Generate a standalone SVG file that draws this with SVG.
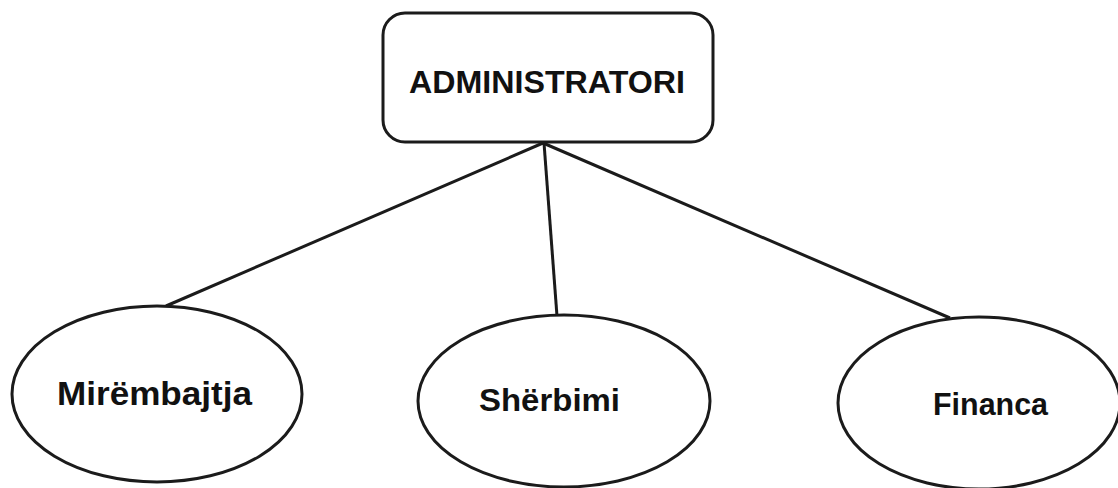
<svg xmlns="http://www.w3.org/2000/svg" width="1118" height="488" viewBox="0 0 1118 488">
<style>
.shape{fill:#fff;stroke:#1b1b1b;stroke-width:3}
.edge{stroke:#1b1b1b;stroke-width:3;fill:none}
.lbl{font-family:"Liberation Sans",Arial,sans-serif;font-weight:bold;fill:#111;text-anchor:start}
</style>
<rect width="1118" height="488" fill="#fff"/>
<g id="connectors">
<line class="edge" x1="543" y1="143" x2="166" y2="306"/>
<line class="edge" x1="544" y1="143" x2="557" y2="316"/>
<line class="edge" x1="543" y1="143" x2="950" y2="318"/>
</g>
<g id="administratori">
<rect class="shape" x="383" y="13" width="330" height="129" rx="22"/>
<text class="lbl" x="409" y="93" font-size="31" textLength="276" lengthAdjust="spacingAndGlyphs">ADMINISTRATORI</text>
</g>
<g id="mirembajtja">
<ellipse class="shape" cx="157" cy="394" rx="145" ry="88"/>
<text class="lbl" x="57" y="405" font-size="33" textLength="195" lengthAdjust="spacingAndGlyphs">Mirëmbajtja</text>
</g>
<g id="sherbimi">
<ellipse class="shape" cx="564" cy="401" rx="146" ry="86"/>
<text class="lbl" x="479" y="411" font-size="31" textLength="141" lengthAdjust="spacingAndGlyphs">Shërbimi</text>
</g>
<g id="financa">
<ellipse class="shape" cx="979" cy="403" rx="141" ry="86"/>
<text class="lbl" x="933" y="415" font-size="31" textLength="115" lengthAdjust="spacingAndGlyphs">Financa</text>
</g>
</svg>
